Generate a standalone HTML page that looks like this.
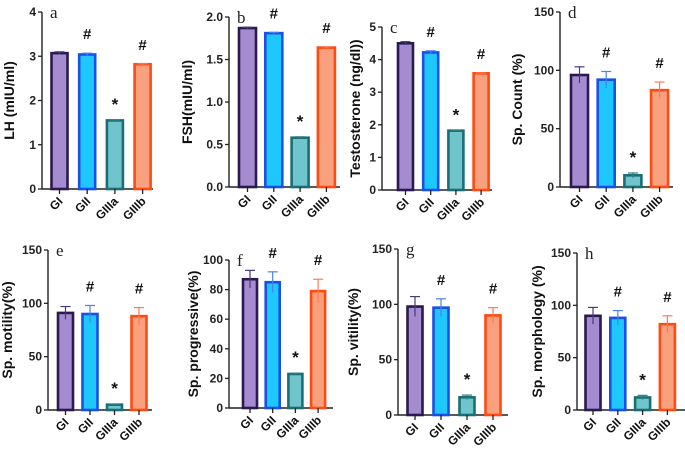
<!DOCTYPE html>
<html><head><meta charset="utf-8"><style>
body{margin:0;background:#fff}
svg{display:block;font-family:"Liberation Sans",Arial,sans-serif}
</style></head><body>
<svg id="fig" width="685" height="453" viewBox="0 0 685 453"></svg>
<script>
const groups=["GI","GII","GIIIa","GIIIb"];
const lhVals=[3.07,3.04,1.55,2.82], lhErr=[0.03,0.03,0.01,0.01];
const fshVals=[1.87,1.81,0.58,1.64], fshErr=[0.01,0.01,0.01,0.01];
const testoVals=[4.5,4.22,1.82,3.58], testoErr=[0.05,0.05,0.01,0.01];
const countVals=[96,92,10,83], countErr=[7,7,2,7];
const motilityVals=[91,90,5,88], motilityErr=[6,8,0.5,8];
const progVals=[87,85,23,79], progErr=[6,7,0.5,8];
const vitVals=[98,97,16,90], vitErr=[9,8,2,7];
const morphVals=[90,88,12,82], morphErr=[8,7,2,8];
const marks=["","#","*","#"];
const fills=["#a58bd0","#1ec8ff","#6fc5cb","#f9a07e"];
const strokes=["#2a1a4f","#1850e8","#1a6e74","#ff4a12"];
const errCols=["#4a3a78","#4a80f0","#2a7e84","#ff7a52"];
const NS="http://www.w3.org/2000/svg";
const svg=document.getElementById('fig');
function mk(tag,attrs,parent,text){const e=document.createElementNS(NS,tag);for(const k in attrs)e.setAttribute(k,attrs[k]);if(text!==undefined)e.textContent=text;(parent||svg).appendChild(e);return e;}
function panel(p){
  const g=mk('g',{});
  
  
  const y=v=>p.y0-(v/p.max)*(p.y0-p.yt);
  const ya=mk('line',{x1:p.ax,y1:p.yt,x2:p.ax,y2:p.y0+0.5,stroke:'#222','stroke-width':1.4},g);
  
  const xa=mk('line',{x1:p.ax,y1:p.y0,x2:p.xe,y2:p.y0,stroke:'#222','stroke-width':1.4},g);
  
  p.ticks.forEach(t=>{
    mk('line',{x1:p.ax-4,y1:y(t),x2:p.ax,y2:y(t),stroke:'#222','stroke-width':1.3},g);
    const tl=mk('text',{x:p.ax-6,y:y(t)+4,'text-anchor':'end','font-size':12,'font-weight':'bold',fill:'#222'},g,p.fmt?p.fmt(t):t);
    
  });
  const yl=mk('text',{x:0,y:0,'text-anchor':'middle','font-size':14,'font-weight':'bold',fill:'#111',transform:`translate(${p.lx},${(p.yt+p.y0)/2}) rotate(-90)`},g,p.label);
  
  const pl=mk('text',{x:p.ax+8,y:p.yt+6,'font-family':'"Liberation Serif",serif','font-size':17,fill:'#222'},g,p.id);
  
  groups.forEach((gn,i)=>{
    const cx=p.c0+i*p.step, v=p.vals[i], e=p.err[i];
    const b=mk('rect',{x:cx-p.w/2,y:y(v),width:p.w,height:p.y0-y(v),fill:fills[i],stroke:strokes[i],'stroke-width':2.6},g);
    
    const et=y(v+e), eb=y(Math.max(v-e,0));
    mk('line',{x1:cx,y1:et,x2:cx,y2:eb,stroke:errCols[i],'stroke-width':1.2},g);
    mk('line',{x1:cx-5,y1:et,x2:cx+5,y2:et,stroke:errCols[i],'stroke-width':1.2},g);
    mk('line',{x1:cx,y1:p.y0,x2:cx,y2:p.y0+5,stroke:'#222','stroke-width':1.3},g);
    const xl=mk('text',{x:0,y:0,'text-anchor':'end','font-size':12,'font-weight':'bold',fill:'#111',transform:`translate(${cx+4},${p.y0+13}) rotate(-45)`},g,gn);
    
    if(marks[i]){
      const m=mk('text',{x:cx,y:et-(marks[i]=='*'?10:14),'text-anchor':'middle','font-size':marks[i]=='*'?17:15,'font-weight':'bold',fill:'#111'},g,marks[i]);
      
    }
  });
}
panel({id:'a',ax:42,yt:12,y0:189,xe:153,max:4,ticks:[0,1,2,3,4],vals:lhVals,err:lhErr,c0:59.5,step:27.7,w:16,lx:14,label:'LH (mIU/ml)'});
panel({id:'b',ax:229,yt:17,y0:187,xe:340,max:2,ticks:[0,0.5,1,1.5,2],fmt:t=>t.toFixed(1),vals:fshVals,err:fshErr,c0:247.5,step:26.3,w:17,lx:192,label:'FSH(mIU/ml)'});
panel({id:'c',ax:382,yt:27,y0:190,xe:492,max:5,ticks:[0,1,2,3,4,5],vals:testoVals,err:testoErr,c0:405.5,step:25.2,w:15,lx:360,label:'Testosterone (ng/dl))'});
panel({id:'d',ax:560,yt:12,y0:187,xe:673,max:150,ticks:[0,50,100,150],vals:countVals,err:countErr,c0:579.5,step:26.7,w:17,lx:522,label:'Sp. Count (%)'});
panel({id:'e',ax:48,yt:250,y0:410,xe:152,max:150,ticks:[0,50,100,150],vals:motilityVals,err:motilityErr,c0:65.5,step:24.5,w:15,lx:12,label:'Sp. motility(%)'});
panel({id:'f',ax:229,yt:260,y0:408,xe:333,max:100,ticks:[0,20,40,60,80,100],vals:progVals,err:progErr,c0:250,step:22.7,w:14,lx:198,label:'Sp. progressive(%)'});
panel({id:'g',ax:398,yt:249,y0:415,xe:508,max:150,ticks:[0,50,100,150],vals:vitVals,err:vitErr,c0:415,step:26,w:15,lx:358,label:'Sp. vitility(%)'});
panel({id:'h',ax:577,yt:253,y0:410,xe:685,max:150,ticks:[0,50,100,150],vals:morphVals,err:morphErr,c0:593,step:24.8,w:15,lx:542,label:'Sp. morphology (%)'});
</script>
</body></html>
